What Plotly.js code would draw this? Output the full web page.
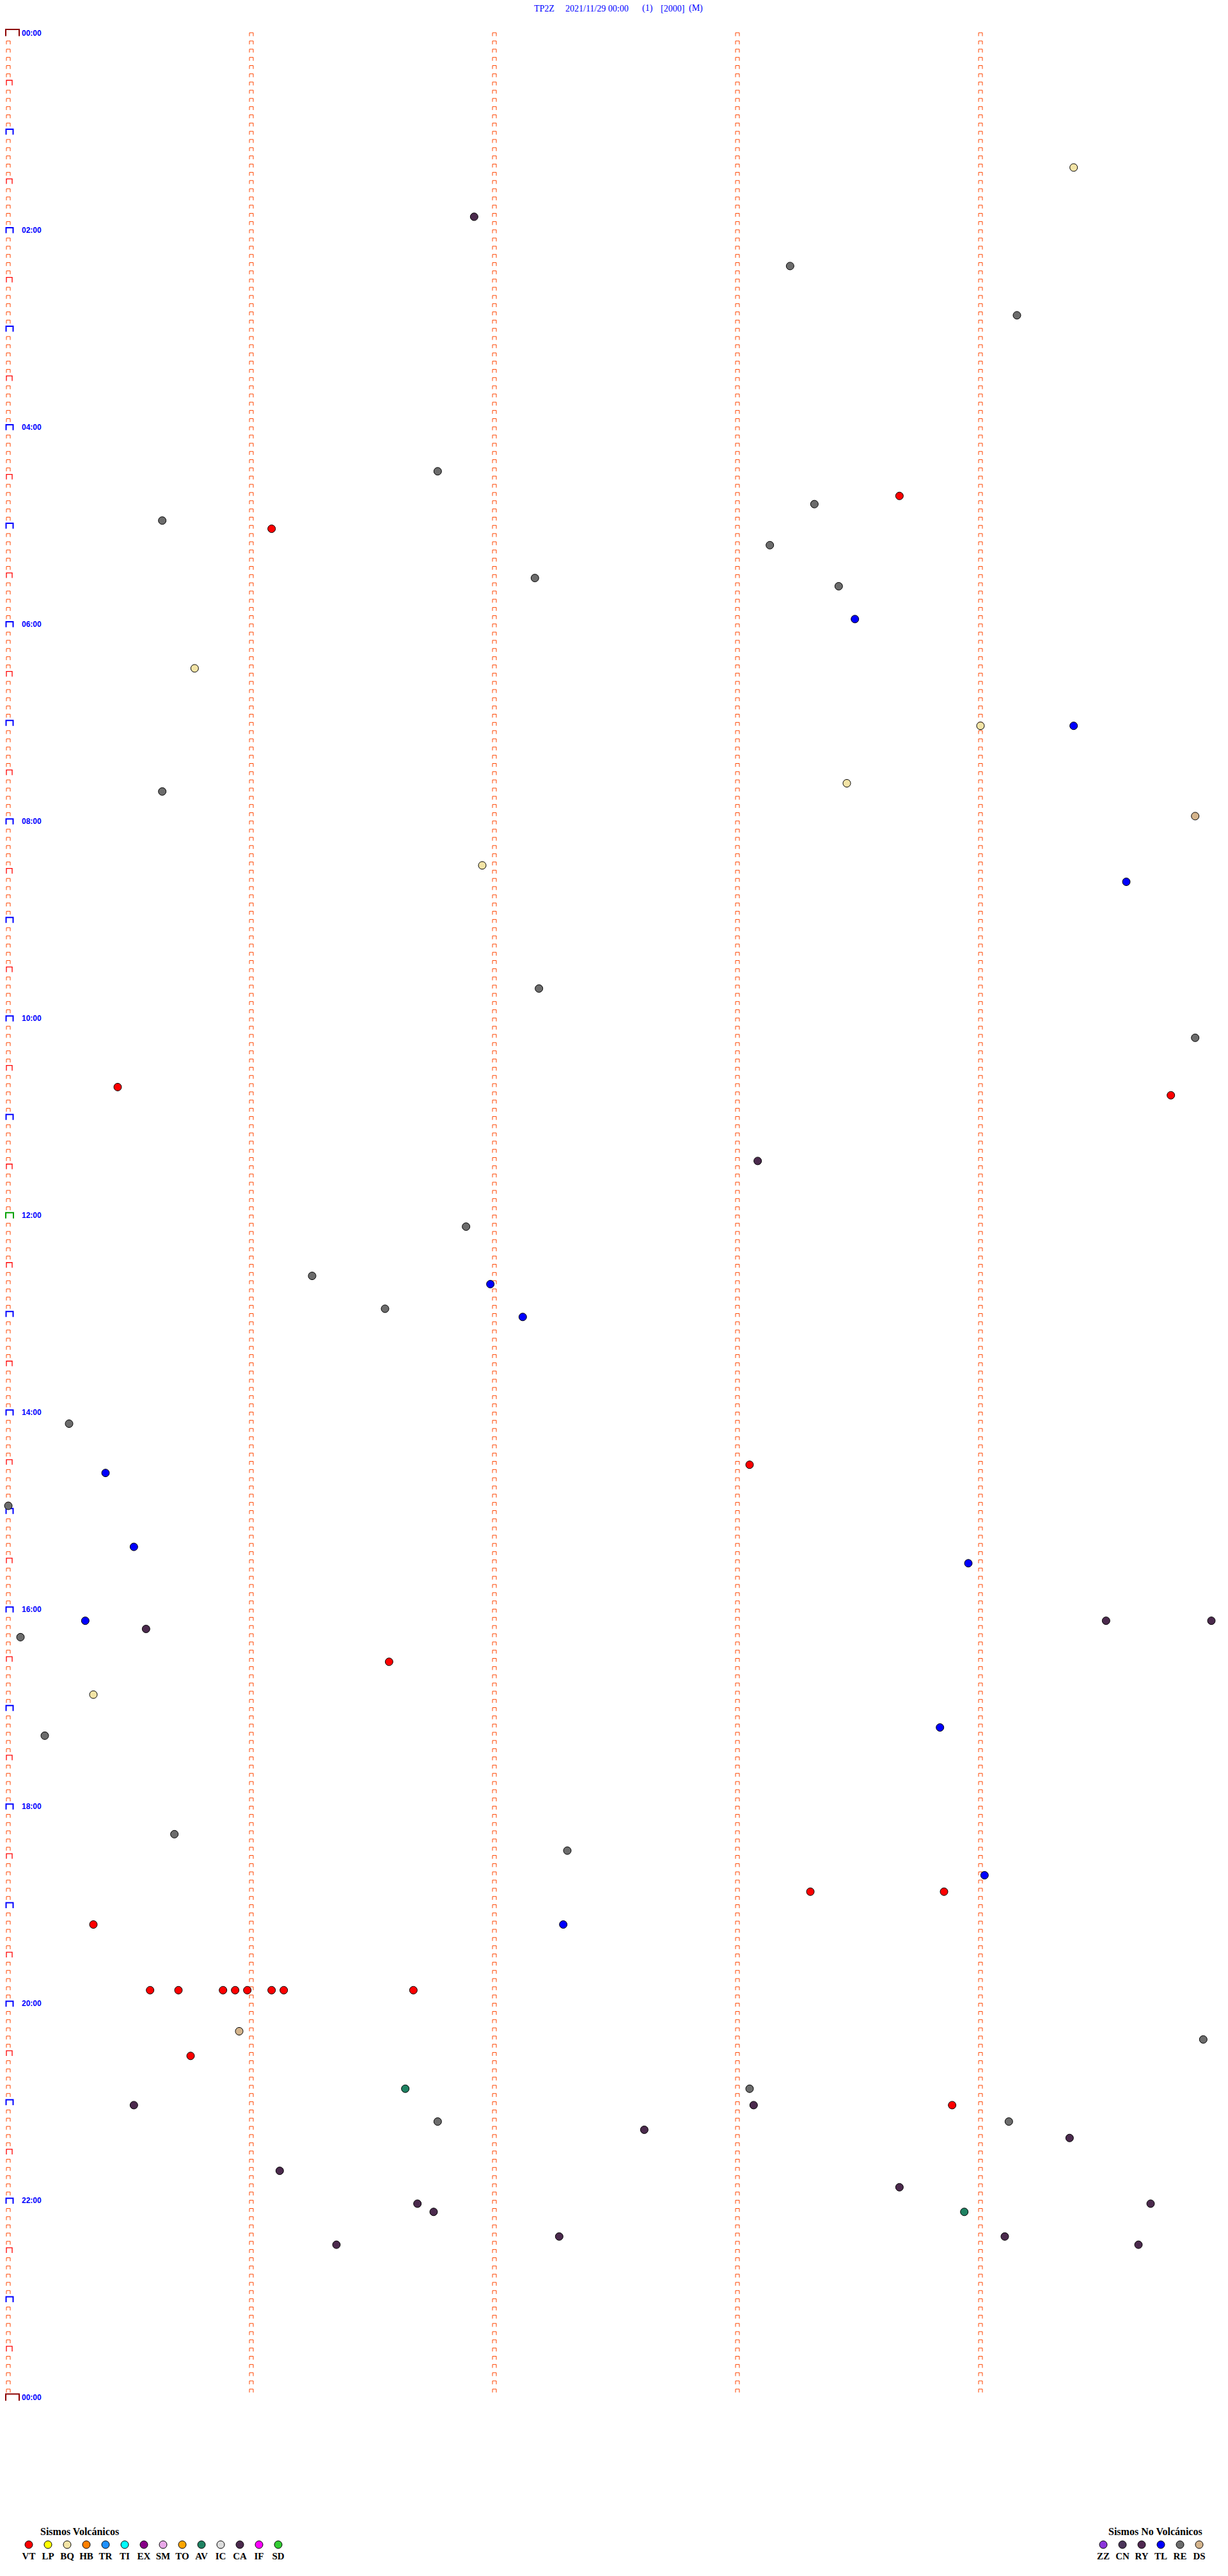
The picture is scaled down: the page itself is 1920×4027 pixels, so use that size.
<!DOCTYPE html>
<html>
<head>
<meta charset="utf-8">
<script src="https://cdn.plot.ly/plotly-3.0.1.min.js"></script>
<style>html,body{margin:0;padding:0;background:#fff;}#chart{width:1920px;height:4027px;}</style>
</head>
<body>
<div id="chart"></div>
<script>
// ---------------- DATA ----------------
const stationTitle = ['TP2Z', '2021/11/29 00:00', '(1)', '[2000]', '(M)'];
const hourLabels = ['00:00','02:00','04:00','06:00','08:00','10:00','12:00','14:00','16:00','18:00','20:00','22:00','00:00'];
const volcCodes = ['VT','LP','BQ','HB','TR','TI','EX','SM','TO','AV','IC','CA','IF','SD'];
const noVolcCodes = ['ZZ','CN','RY','TL','RE','DS'];
const volcTitle = 'Sismos Volcánicos';
const noVolcTitle = 'Sismos No Volcánicos';

const eventTime = [
 '01:24:23','01:51:55','02:23:13','02:54:09','04:26:46','04:43:40','04:48:19','04:55:38','05:01:05','05:13:08',
 '05:32:10','05:38:25','05:58:29','06:25:46','07:04:00','07:04:23','07:38:27','07:40:38','07:59:53','08:26:57',
 '08:39:36','09:42:11','10:14:53','10:40:27','10:49:47','11:28:05','12:06:53','12:36:15','12:41:59','12:56:33',
 '13:02:07','14:05:15','14:33:03','14:35:24','14:55:00','15:20:31','15:33:57','16:05:19','16:09:31','16:09:57',
 '16:10:34','16:15:03','16:31:34','16:50:21','17:13:50','17:15:09','18:15:41','18:27:18','18:44:01','18:53:18',
 '18:53:51','19:10:21','19:12:17','19:50:35','19:50:42','19:50:53','19:50:56','19:50:59','19:51:05','19:51:08',
 '19:51:40','20:15:57','20:24:55','20:30:45','20:51:38','20:53:03','21:00:31','21:03:04','21:03:53','21:11:46',
 '21:14:07','21:17:37','21:24:22','21:41:07','21:53:40','22:01:41','22:04:42','22:06:45','22:08:56','22:22:16',
 '22:24:06','22:26:21','22:29:39'
];
const eventType = [
 'BQ','CA','RE','RE','RE','VT','RE','RE','VT','RE',
 'RE','RE','TL','BQ','BQ','TL','BQ','RE','DS','BQ',
 'TL','RE','RE','VT','VT','CA','RE','RE','TL','RE',
 'TL','RE','VT','TL','RE','TL','TL','TL','CA','CA',
 'CA','RE','VT','BQ','TL','RE','RE','RE','TL','VT',
 'VT','VT','TL','VT','VT','VT','VT','VT','VT','VT',
 'VT','DS','RE','VT','AV','RE','CA','CA','VT','RE',
 'RE','CA','CA','CA','CA','CA','CA','CA','AV','CA',
 'CA','CA','CA'
];

// ---------------- STYLE ----------------
const typeColors = {
  VT:'#FF0000', LP:'#FFFF00', BQ:'#F3E4A6', HB:'#FF8000', TR:'#1E90FF', TI:'#00FFFF', EX:'#880088',
  SM:'#E8A8E8', TO:'#FFA500', AV:'#1F8262', IC:'#DCDCDC', CA:'#4B2A4D', IF:'#FF00FF', SD:'#33CC33',
  ZZ:'#8B35DA', CN:'#4B3559', RY:'#4F2850', TL:'#0000FF', RE:'#6C6C6C', DS:'#D4B48C'
};
const W = 1920, H = 4027;
const ROW_SEC = 300;            // one helicorder line = 5 minutes
const COL_SEC = 60;             // minute marks
const PX_SEC = 380 / 60;        // horizontal pixels per second
const PX_ROW = 12.835;          // vertical pixels per line
const X0PX = 13, Y0PX = 56.5;   // position of 00:00
const NROWS = 288;

function toSec(t){ const p = t.split(':').map(Number); return p[0]*3600 + p[1]*60 + (p[2]||0); }

// bracket "⊓" builder in data units
function addBracket(arr, xc, yb, leftPx, rightPx, hPx){
  const xl = xc - leftPx / PX_SEC, xr = xc + rightPx / PX_SEC, yt = yb - hPx / PX_ROW;
  arr.x.push(xl, xl, xr, xr, null);
  arr.y.push(yb, yt, yt, yb, null);
}
const small = {x:[], y:[]}, half = {x:[], y:[]}, hour = {x:[], y:[]}, day = {x:[], y:[]}, noon = {x:[], y:[]};
for (let r = 0; r <= NROWS; r++){
  for (let c = 0; c * COL_SEC < ROW_SEC; c++){
    const xc = c * COL_SEC;
    if (c === 0){
      if (r === 0 || r === NROWS) addBracket(day, xc, r, 4, 17, 10.5);
      else if (r === NROWS/2) addBracket(noon, xc, r, 4, 8, 9);
      else if (r % 12 === 0) addBracket(hour, xc, r, 3.5, 7.5, 8.5);
      else if (r % 12 === 6) addBracket(half, xc, r, 3, 6, 8);
      else addBracket(small, xc, r, 3, 3, 5.3);
    } else if (r < NROWS) {
      addBracket(small, xc, r, 3, 3, 5.3);
    }
  }
}

const traces = [];
function lineTrace(arr, color, width){
  return {type:'scatter', mode:'lines', x:arr.x, y:arr.y, xaxis:'x', yaxis:'y',
          line:{color:color, width:width}, hoverinfo:'skip', showlegend:false};
}
traces.push(lineTrace(small, '#FF4500', 1));
traces.push(lineTrace(half, '#FF0000', 1.3));
traces.push(lineTrace(hour, '#0000FF', 2));
traces.push(lineTrace(noon, '#00A000', 2));
traces.push(lineTrace(day, '#8B0000', 2));

// events
const evSec = eventTime.map(toSec);
traces.push({
  type:'scatter', mode:'markers', xaxis:'x', yaxis:'y',
  x: evSec.map(s => s % ROW_SEC),
  y: evSec.map(s => Math.floor(s / ROW_SEC)),
  text: eventType,
  marker:{size:12, color:eventType.map(t => typeColors[t]), line:{color:'#000', width:1}},
  showlegend:false, hoverinfo:'text'
});

// legend rows (index-based axis)
const NV_OFFSET = 56;
const legX = volcCodes.map((c,i) => i).concat(noVolcCodes.map((c,i) => NV_OFFSET + i));
const legCodes = volcCodes.concat(noVolcCodes);
traces.push({
  type:'scatter', mode:'markers', xaxis:'x2', yaxis:'y2',
  x: legX, y: legX.map(() => 0),
  marker:{size:12, color:legCodes.map(c => typeColors[c]), line:{color:'#000', width:1}},
  showlegend:false, hoverinfo:'skip'
});
traces.push({
  type:'scatter', mode:'text', xaxis:'x2', yaxis:'y2',
  x: legX, y: legX.map(() => -1), text: legCodes, textposition:'middle center',
  textfont:{family:'Liberation Serif, Times New Roman, serif', size:15, color:'#000', weight:'bold'},
  showlegend:false, hoverinfo:'skip'
});

// ---------------- LAYOUT ----------------
const annotations = [];
// title pieces
const titleX = [833, 882, 1002, 1031, 1075];
stationTitle.forEach((t,i) => annotations.push({
  xref:'paper', yref:'paper', x: titleX[i]/W, y: 1 - 13/H, xanchor:'left', yanchor:'middle',
  text:t, showarrow:false, font:{family:'Liberation Serif, Times New Roman, serif', size:14, color:'#0000FF'}
}));
// hour labels
hourLabels.forEach((t,i) => annotations.push({
  xref:'x', yref:'y', x: 19 / PX_SEC, y: i*24 - 5/PX_ROW, xanchor:'left', yanchor:'middle',
  text:'<b>'+t+'</b>', showarrow:false,
  font:{family:'Liberation Sans, Arial, sans-serif', size:12, color:'#0000FF'}
}));
// legend titles
annotations.push({xref:'x2', yref:'y2', x: (124-45)/30, y: 1.1, xanchor:'center', yanchor:'middle',
  text:'<b>'+volcTitle+'</b>', showarrow:false, font:{family:'Liberation Serif, Times New Roman, serif', size:16, color:'#000'}});
annotations.push({xref:'x2', yref:'y2', x: (1806-45)/30, y: 1.1, xanchor:'center', yanchor:'middle',
  text:'<b>'+noVolcTitle+'</b>', showarrow:false, font:{family:'Liberation Serif, Times New Roman, serif', size:16, color:'#000'}});

const hidden = {visible:false, showgrid:false, zeroline:false, showticklabels:false, fixedrange:true};
const layout = {
  width:W, height:H, margin:{l:0, r:0, t:0, b:0, pad:0},
  paper_bgcolor:'#fff', plot_bgcolor:'rgba(0,0,0,0)', showlegend:false,
  xaxis:Object.assign({}, hidden, {range:[-X0PX/PX_SEC, (W - X0PX)/PX_SEC], domain:[0,1]}),
  yaxis:Object.assign({}, hidden, {range:[(H - Y0PX)/PX_ROW, -Y0PX/PX_ROW], domain:[0,1]}),
  xaxis2:Object.assign({}, hidden, {range:[-45/30, (W-45)/30], domain:[0,1], anchor:'y2'}),
  yaxis2:Object.assign({}, hidden, {range:[-(H-3978)/19, (3978 - (H - 0.05*H))/19], domain:[0,0.05], anchor:'x2'}),
  annotations: annotations
};
Plotly.newPlot('chart', traces, layout, {staticPlot:true, displayModeBar:false});
</script>
</body>
</html>
